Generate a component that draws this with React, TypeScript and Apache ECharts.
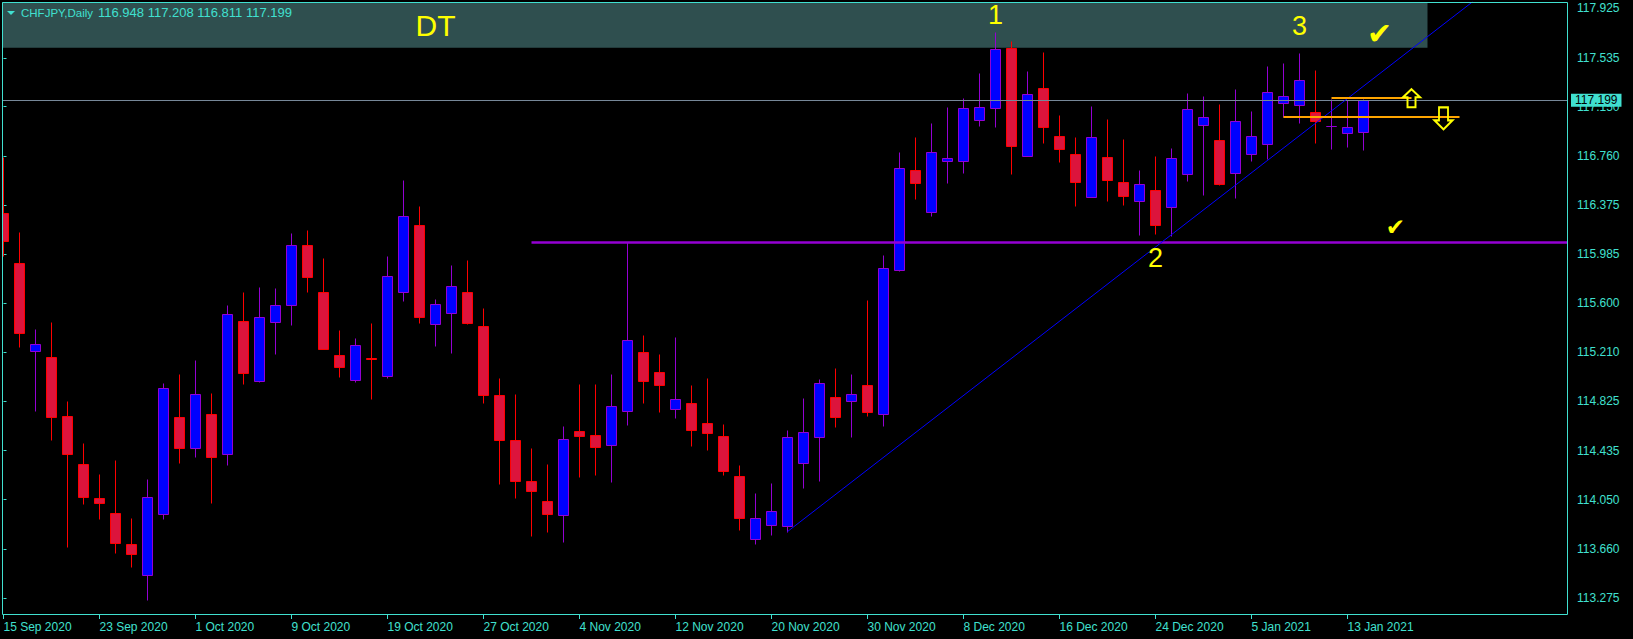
import React, { useEffect, useRef } from "react";
import * as echarts from "echarts";

// ---------- data ----------
const OPEN = [
  116.308, 115.914, 115.22, 115.172, 114.707, 114.328, 114.06, 113.942, 113.697, 113.453,
  113.934, 114.699, 114.454, 114.723, 114.407, 115.456, 114.983, 115.448, 115.582, 116.056,
  115.685, 115.188, 114.991, 115.165, 115.022, 115.685, 116.213, 115.432, 115.519, 115.685,
  115.417, 114.872, 114.517, 114.194, 114.036, 113.926, 114.588, 114.557, 114.478, 114.746,
  115.212, 115.054, 114.762, 114.809, 114.652, 114.549, 114.234, 113.741, 113.847, 113.839,
  114.336, 114.541, 114.858, 114.824, 114.954, 114.723, 115.858, 116.646, 116.318, 116.723,
  116.723, 117.047, 117.137, 117.616, 116.763, 117.297, 116.917, 116.774, 116.438, 116.752,
  116.555, 116.408, 116.492, 116.36, 116.62, 117.007, 116.886, 116.628, 116.778, 116.857,
  117.181, 117.165, 117.105, 116.995, 116.944, 116.948,
];
const HIGH = [
  116.755, 116.161, 115.395, 115.451, 114.828, 114.496, 114.252, 114.362, 113.905, 114.21,
  114.967, 115.041, 115.151, 114.891, 115.585, 115.687, 115.727, 115.719, 116.153, 116.176,
  115.956, 115.388, 115.324, 115.443, 115.971, 116.571, 116.366, 115.632, 115.9, 115.94,
  115.561, 115.009, 114.883, 114.457, 114.331, 114.63, 114.962, 114.962, 115.041, 116.079,
  115.348, 115.198, 115.332, 114.954, 115.009, 114.646, 114.323, 114.104, 114.183, 114.599,
  114.851, 114.999, 115.089, 115.041, 115.624, 115.979, 116.791, 116.909, 117.021, 117.146,
  117.218, 117.416, 117.737, 117.666, 117.43, 117.58, 117.084, 116.909, 117.154, 117.053,
  116.894, 116.65, 116.76, 116.823, 117.257, 117.233, 117.17, 117.289, 117.115, 117.47,
  117.494, 117.573, 117.439, 117.21, 117.202, 117.208,
];
const LOW = [
  115.974, 115.256, 114.751, 114.522, 113.678, 114.017, 113.899, 113.631, 113.516, 113.258,
  113.899, 114.341, 114.388, 114.025, 114.325, 114.964, 114.98, 115.201, 115.429, 115.69,
  115.238, 115.019, 114.98, 114.846, 115.011, 115.619, 115.44, 115.264, 115.208, 115.432,
  114.814, 114.175, 114.065, 113.765, 113.796, 113.718, 114.23, 114.246, 114.191, 114.641,
  114.814, 114.743, 114.696, 114.475, 114.443, 114.246, 113.812, 113.702, 113.773, 113.796,
  114.144, 114.199, 114.622, 114.54, 114.708, 114.633, 115.85, 116.424, 116.289, 116.548,
  116.627, 116.999, 116.99, 116.619, 116.76, 116.864, 116.714, 116.368, 116.436, 116.408,
  116.376, 116.137, 116.145, 116.129, 116.563, 116.452, 116.531, 116.429, 116.721, 116.737,
  117.07, 117.02, 116.863, 116.815, 116.831, 116.811,
];
const CLOSE = [
  116.087, 115.362, 115.275, 114.699, 114.407, 114.068, 114.02, 113.705, 113.618, 114.068,
  114.928, 114.454, 114.88, 114.383, 115.511, 115.051, 115.488, 115.582, 116.056, 115.808,
  115.24, 115.093, 115.267, 115.157, 115.811, 116.284, 115.492, 115.59, 115.732, 115.44,
  114.872, 114.517, 114.194, 114.115, 113.934, 114.525, 114.549, 114.462, 114.786, 115.306,
  114.983, 114.951, 114.841, 114.596, 114.573, 114.273, 113.902, 113.902, 113.957, 114.541,
  114.581, 114.967, 114.701, 114.88, 114.737, 115.875, 116.664, 116.551, 116.788, 116.743,
  117.137, 117.143, 117.602, 116.836, 117.247, 116.991, 116.819, 116.557, 116.909, 116.573,
  116.447, 116.539, 116.218, 116.742, 117.131, 117.068, 116.542, 117.034, 116.918, 117.265,
  117.231, 117.36, 117.039, 116.997, 116.986, 117.199,
];

const TICK_INDEX = [0, 6, 12, 18, 24, 30, 36, 42, 48, 54, 60, 66, 72, 78, 84];
const TICK_LABELS = [
  "15 Sep 2020", "23 Sep 2020", "1 Oct 2020", "9 Oct 2020", "19 Oct 2020",
  "27 Oct 2020", "4 Nov 2020", "12 Nov 2020", "20 Nov 2020", "30 Nov 2020",
  "8 Dec 2020", "16 Dec 2020", "24 Dec 2020", "5 Jan 2021", "13 Jan 2021",
];
const PRICE_TICKS = [
  117.925, 117.535, 117.15, 116.76, 116.375, 115.985, 115.6, 115.21, 114.825,
  114.435, 114.05, 113.66, 113.275,
];

// drawn objects (bar index, price)
const RESIST_LEVEL = 116.079;
const RESIST_FROM = 33;
const TREND_FROM = [49, 113.797];
const TREND_TO = [91.8, 117.975];
const ORANGE_UP = { from: 83, to: 88, price: 117.22 };
const ORANGE_DOWN = { from: 80, to: 91, price: 117.07 };
const BAND = { to: 89, low: 117.614 };
const LABELS = [
  { text: "DT", at: [27, 117.786], size: 30 },
  { text: "1", at: [62, 117.875], size: 27 },
  { text: "2", at: [72, 115.956], size: 27 },
  { text: "3", at: [81, 117.786], size: 27 },
];
const CHECKS = [
  { at: [86, 117.73], size: 30 },
  { at: [87, 116.2], size: 23 },
];
const ARROW_UP = [88, 117.216];
const ARROW_DOWN = [90, 117.0575];

// ---------- view ----------
const X_MIN = -0.09375;
const X_MAX = 97.78125;
const Y_MIN = 113.139;
const Y_MAX = 117.975;

const FG = "#40E0D0";
const BULL_FILL = "#0000FF";
const BULL_EDGE = "#9400D3";
const BEAR_FILL = "#DC143C";
const BEAR_EDGE = "#FF0000";
const YELLOW = "#FFFF00";

function renderCandle(params: any, api: any) {
  const i = api.value(0);
  const o = api.value(1);
  const h = api.value(2);
  const l = api.value(3);
  const c = api.value(4);
  const pO = api.coord([i, o]);
  const pC = api.coord([i, c]);
  const pH = api.coord([i, h]);
  const pL = api.coord([i, l]);
  const bull = c >= o;
  const snap = (v: number) => Math.round(v) + 0.5;
  const cx = Math.floor(pO[0]) + 0.5;
  const yTop = snap(Math.min(pO[1], pC[1]));
  const yBot = snap(Math.max(pO[1], pC[1]));
  const edge = bull ? BULL_EDGE : BEAR_EDGE;
  return {
    type: "group",
    children: [
      {
        type: "line",
        shape: { x1: cx, y1: snap(pH[1]), x2: cx, y2: snap(pL[1]) },
        style: { stroke: edge, lineWidth: 1 },
      },
      {
        type: "rect",
        shape: { x: cx - 5, y: yTop, width: 10, height: Math.max(yBot - yTop, 0) },
        style: { fill: bull ? BULL_FILL : BEAR_FILL, stroke: edge, lineWidth: 1 },
      },
    ],
  };
}

export default function App() {
  const ref = useRef<HTMLDivElement>(null);
  useEffect(() => {
    document.body.style.margin = "0";
    document.body.style.background = "#000";
    const chart = echarts.init(ref.current!, null, { renderer: "svg" });
    const candles = OPEN.map((o, i) => [i, o, HIGH[i], LOW[i], CLOSE[i]]);
    const last = OPEN.length - 1;
    const bid = CLOSE[last];
    const header = [OPEN[last], HIGH[last], LOW[last], CLOSE[last]].map((v) => v.toFixed(3)).join(" ");

    const option: any = {
      animation: false,
      backgroundColor: "#000000",
      grid: { left: 2, top: 2, width: 1566, height: 613, show: false },
      xAxis: {
        type: "value",
        min: X_MIN,
        max: X_MAX,
        axisLine: { show: false },
        splitLine: { show: false },
        axisTick: {
          show: true,
          length: 4,
          customValues: TICK_INDEX,
          lineStyle: { color: FG },
        },
        axisLabel: {
          customValues: TICK_INDEX,
          formatter: (v: number) => {
            const k = TICK_INDEX.indexOf(Math.round(v));
            return k >= 0 ? TICK_LABELS[k] : "";
          },
          align: "left",
          margin: 6,
          color: FG,
          fontSize: 12,
          fontFamily: "Liberation Sans",
        },
      },
      yAxis: {
        type: "value",
        position: "right",
        min: Y_MIN,
        max: Y_MAX,
        axisLine: { show: false },
        splitLine: { show: false },
        axisTick: {
          show: true,
          length: 3,
          customValues: PRICE_TICKS,
          lineStyle: { color: FG },
        },
        axisLabel: {
          customValues: PRICE_TICKS,
          formatter: (v: number) => v.toFixed(3),
          margin: 9,
          color: FG,
          fontSize: 12,
          fontFamily: "Liberation Sans",
        },
      },
      series: [
        {
          type: "line",
          z: 1,
          data: [],
          silent: true,
          markArea: {
            silent: true,
            itemStyle: { color: "#2F4F4F" },
            label: { show: false },
            data: [[{ coord: [X_MIN, BAND.low] }, { coord: [BAND.to, Y_MAX] }]],
          },
        },
        {
          type: "custom",
          z: 2,
          clip: true,
          renderItem: renderCandle,
          encode: { x: 0, y: [1, 2, 3, 4] },
          data: candles,
        },
        {
          type: "line",
          z: 3,
          data: [],
          silent: true,
          markLine: {
            silent: true,
            symbol: ["none", "none"],
            label: { show: false },
            lineStyle: { type: "solid" },
            data: [
              [
                {
                  coord: [X_MIN, bid],
                  lineStyle: { color: "#778899", width: 1, type: "solid" },
                  label: {
                    show: true,
                    position: "end",
                    distance: 3,
                    formatter: bid.toFixed(3),
                    color: "#000000",
                    backgroundColor: FG,
                    padding: [1, 4, 0, 4],
                    fontSize: 12,
                    fontFamily: "Liberation Sans",
                  },
                },
                { coord: [X_MAX, bid] },
              ],
              [
                { coord: [RESIST_FROM, RESIST_LEVEL], lineStyle: { color: "#9400D3", width: 2.5, type: "solid" } },
                { coord: [X_MAX, RESIST_LEVEL] },
              ],
              [
                { coord: TREND_FROM, lineStyle: { color: "#0000FF", width: 1, type: "solid" } },
                { coord: TREND_TO },
              ],
              [
                { coord: [ORANGE_UP.from, ORANGE_UP.price], lineStyle: { color: "#FFA500", width: 2, type: "solid" } },
                { coord: [ORANGE_UP.to, ORANGE_UP.price] },
              ],
              [
                { coord: [ORANGE_DOWN.from, ORANGE_DOWN.price], lineStyle: { color: "#FFA500", width: 2, type: "solid" } },
                { coord: [ORANGE_DOWN.to, ORANGE_DOWN.price] },
              ],
            ],
          },
          markPoint: {
            silent: true,
            symbol: "circle",
            symbolSize: 1,
            itemStyle: { color: "rgba(0,0,0,0)" },
            label: {
              show: true,
              position: "inside",
              formatter: "{b}",
              color: YELLOW,
              fontFamily: "Liberation Sans",
              fontSize: 27,
            },
            data: [
              ...LABELS.map((t) => ({
                name: t.text,
                coord: t.at,
                label: { fontSize: t.size, lineHeight: Math.round(t.size * 0.78) },
              })),
              ...CHECKS.map((c) => ({
                name: "\u2714",
                coord: c.at,
                label: { fontSize: c.size, fontFamily: "DejaVu Sans", lineHeight: Math.round(c.size * 0.8) },
              })),
              {
                name: "up",
                coord: ARROW_UP,
                symbol: "path://M8.5,0 L17,8 L12.5,8 L12.5,18 L4.5,18 L4.5,8 L0,8 Z",
                symbolSize: [17, 18],
                itemStyle: { color: "rgba(0,0,0,0)", borderColor: YELLOW, borderWidth: 2 },
                label: { show: false },
              },
              {
                name: "down",
                coord: ARROW_DOWN,
                symbol: "path://M4.5,0 L13.5,0 L13.5,13 L18,13 L9,22 L0,13 L4.5,13 Z",
                symbolSize: [18, 22],
                itemStyle: { color: "rgba(0,0,0,0)", borderColor: YELLOW, borderWidth: 2 },
                label: { show: false },
              },
            ],
          },
        },
      ],
      graphic: {
        elements: [
          {
            type: "rect",
            silent: true,
            z: 100,
            shape: { x: 2.5, y: 2.5, width: 1565, height: 612 },
            style: { fill: "none", stroke: FG, lineWidth: 1 },
          },
          {
            type: "polygon",
            silent: true,
            z: 100,
            shape: { points: [[7, 11], [15, 11], [11, 15]] },
            style: { fill: FG },
          },
          {
            type: "text",
            silent: true,
            z: 100,
            x: 21,
            y: 12.5,
            style: {
              text: "CHFJPY,Daily",
              fill: FG,
              fontSize: 11.5,
              fontFamily: "Liberation Sans",
              verticalAlign: "middle",
            },
          },
          {
            type: "text",
            silent: true,
            z: 100,
            x: 98,
            y: 12.5,
            style: {
              text: header,
              fill: FG,
              fontSize: 13,
              fontFamily: "Liberation Sans",
              verticalAlign: "middle",
            },
          },
        ],
      },
    };
    chart.setOption(option);
    return () => chart.dispose();
  }, []);
  return (
    <div
      ref={ref}
      style={{ position: "absolute", left: 0, top: 0, width: 1633, height: 639, background: "#000" }}
    />
  );
}
